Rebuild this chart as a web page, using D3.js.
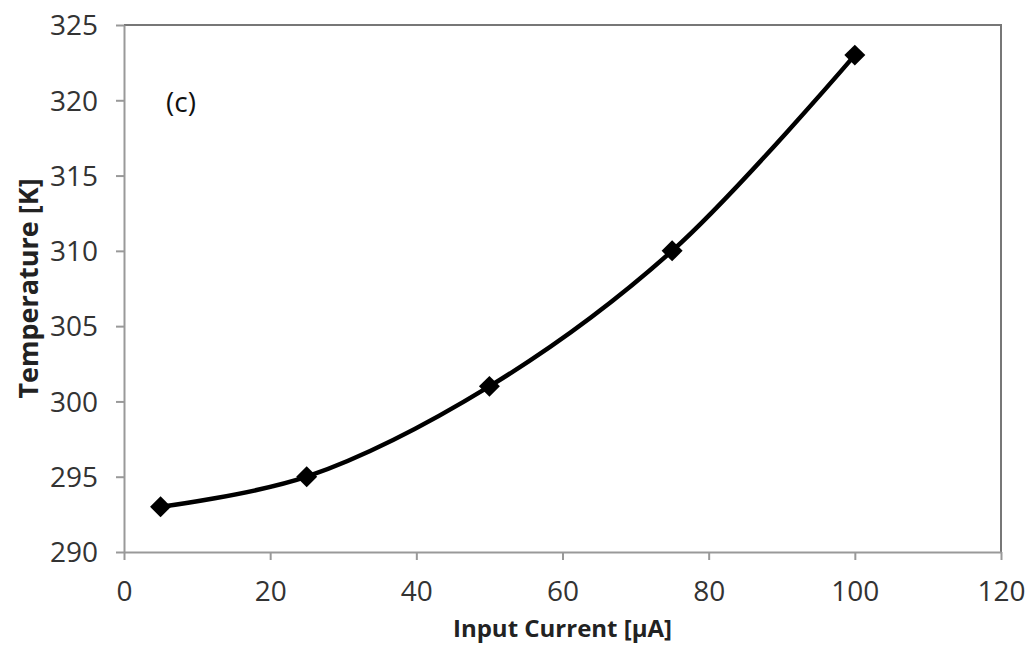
<!DOCTYPE html>
<html>
<head>
    <script src="https://cdnjs.cloudflare.com/ajax/libs/d3/7.8.5/d3.min.js"></script>
    <style>
        body { margin: 0; background: #fff; }
        .tick text {
            font-family: "Open Sans", sans-serif;
            font-size: 28px;
            fill: #333;
        }
        .axis-title {
            font-family: "Open Sans", sans-serif;
            font-weight: bold;
            fill: #222;
        }
    </style>
</head>
<body>
    <div id="chart"></div>
    <script>
        const width = 1031, height = 662;
        const margin = { top: 25, right: 30, bottom: 110, left: 124 };

        // data
        const current = [5, 25, 50, 75, 100];
        const temperature = [293, 295, 301, 310, 323];
        const xTicks = [0, 20, 40, 60, 80, 100, 120];
        const yTicks = [290, 295, 300, 305, 310, 315, 320, 325];

        const points = current.map((c, i) => ({ x: c, y: temperature[i] }));

        const svg = d3.select("#chart").append("svg")
            .attr("width", width).attr("height", height);

        const x = d3.scaleLinear().domain([0, 120]).range([margin.left, 1001]);
        const y = d3.scaleLinear().domain([290, 325]).range([552, margin.top]);

        // frame (top and right)
        svg.append("path")
            .attr("d", `M${x(0)},${y(325)}H${x(120)}V${y(290)}`)
            .attr("fill", "none")
            .attr("stroke", "#777")
            .attr("stroke-width", 2);

        const xAxis = svg.append("g")
            .attr("transform", `translate(0,${y(290)})`)
            .call(d3.axisBottom(x).tickValues(xTicks).tickSize(8).tickPadding(16).tickSizeOuter(0));

        const yAxis = svg.append("g")
            .attr("transform", `translate(${x(0)},0)`)
            .call(d3.axisLeft(y).tickValues(yTicks).tickSize(8).tickPadding(18).tickSizeOuter(0));

        [xAxis, yAxis].forEach(g => {
            g.select(".domain").attr("stroke", "#999").attr("stroke-width", 2);
            g.selectAll(".tick line").attr("stroke", "#999").attr("stroke-width", 2);
        });
        xAxis.selectAll(".tick text").attr("dy", "0.9em");
        yAxis.selectAll(".tick text").attr("dy", "0.35em");

        const line = d3.line()
            .x(d => x(d.x))
            .y(d => y(d.y))
            .curve(d3.curveCatmullRom.alpha(0.5));

        svg.append("path")
            .datum(points)
            .attr("d", line)
            .attr("fill", "none")
            .attr("stroke", "#000")
            .attr("stroke-width", 4.5);

        svg.append("g")
            .selectAll("path")
            .data(points)
            .enter().append("path")
            .attr("d", d3.symbol().type(d3.symbolSquare).size(220))
            .attr("transform", d => `translate(${x(d.x)},${y(d.y)}) rotate(45)`)
            .attr("fill", "#000");

        // panel label
        svg.append("text")
            .attr("x", 166).attr("y", 112)
            .attr("font-family", "Open Sans, sans-serif")
            .attr("font-size", 28)
            .attr("fill", "#111")
            .text("(c)");

        svg.append("text")
            .attr("class", "axis-title")
            .attr("font-size", 24)
            .attr("x", (x(0) + x(120)) / 2)
            .attr("y", 637)
            .attr("text-anchor", "middle")
            .text("Input Current [µA]");

        svg.append("text")
            .attr("class", "axis-title")
            .attr("font-size", 27)
            .attr("transform", `translate(38,${(y(290) + y(325)) / 2}) rotate(-90)`)
            .attr("text-anchor", "middle")
            .text("Temperature [K]");
    </script>
</body>
</html>
